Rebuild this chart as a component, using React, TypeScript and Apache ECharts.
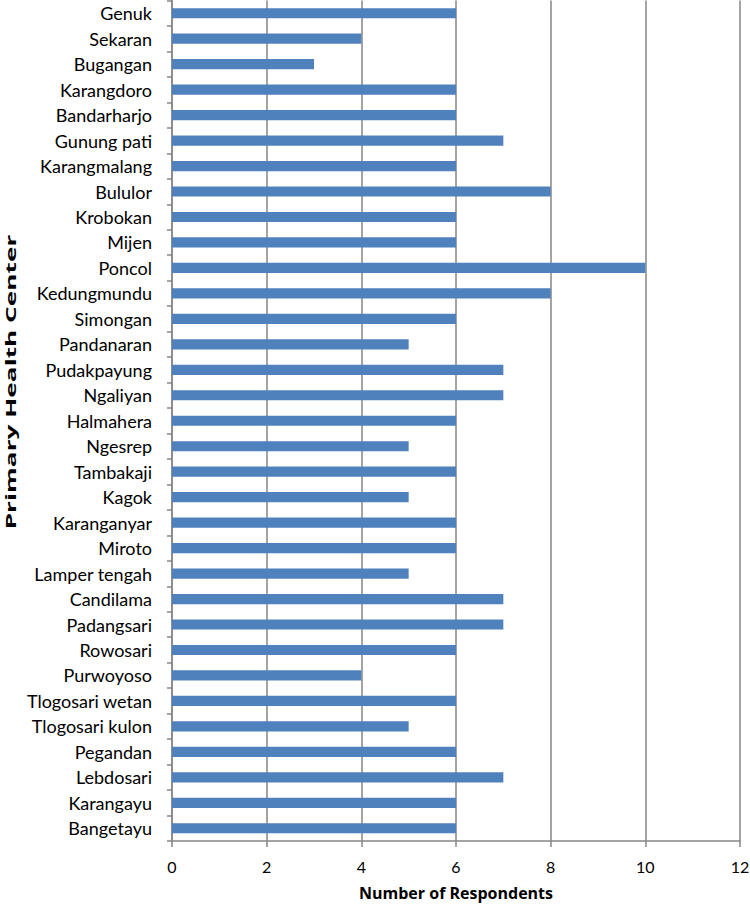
import React, { useEffect, useRef } from "react";
import * as echarts from "echarts";

const categories = [
  "Genuk", "Sekaran", "Bugangan", "Karangdoro", "Bandarharjo", "Gunung pati",
  "Karangmalang", "Bululor", "Krobokan", "Mijen", "Poncol", "Kedungmundu",
  "Simongan", "Pandanaran", "Pudakpayung", "Ngaliyan", "Halmahera", "Ngesrep",
  "Tambakaji", "Kagok", "Karanganyar", "Miroto", "Lamper tengah", "Candilama",
  "Padangsari", "Rowosari", "Purwoyoso", "Tlogosari wetan", "Tlogosari kulon",
  "Pegandan", "Lebdosari", "Karangayu", "Bangetayu",
];
const respondents = [
  6, 4, 3, 6, 6, 7, 6, 8, 6, 6, 10, 8, 6, 5, 7, 7, 6, 5, 6, 5, 6, 6, 5, 7, 7,
  6, 4, 6, 5, 6, 7, 6, 6,
];
const xTicks = { min: 0, max: 12, interval: 2 };
const xAxisTitle = "Number of Respondents";
const yAxisTitle = "Primary Health Center";

const FONT = "Lato, 'Open Sans', sans-serif";
const TITLE_FONT = "'Open Sans', Lato, sans-serif";

export default function App() {
  const ref = useRef<HTMLDivElement>(null);
  useEffect(() => {
    document.body.style.margin = "0";
    const chart = echarts.init(ref.current!, null, { renderer: "svg" });
    chart.setOption({
      animation: false,
      backgroundColor: "#ffffff",
      grid: {
        left: 172,
        right: 10,
        top: 0.5,
        bottom: 64,
        containLabel: false,
        outerBoundsMode: "none",
      },
      xAxis: {
        type: "value",
        min: xTicks.min,
        max: xTicks.max,
        interval: xTicks.interval,
        name: xAxisTitle,
        nameLocation: "middle",
        nameGap: 44,
        nameTextStyle: { fontFamily: TITLE_FONT, fontSize: 16, fontWeight: "bold", color: "#000" },
        axisLine: { show: true, lineStyle: { color: "#868686", width: 1.5 } },
        axisTick: { show: true, length: 6, lineStyle: { color: "#868686", width: 1.5 } },
        axisLabel: { fontFamily: FONT, fontSize: 16, color: "#000", margin: 17 },
        splitLine: { show: true, lineStyle: { color: "#868686", width: 1.5 } },
      },
      yAxis: {
        type: "category",
        data: categories,
        inverse: true,
        axisLine: { show: true, lineStyle: { color: "#868686", width: 1.5 } },
        axisTick: { show: true, length: 5, alignWithLabel: false, lineStyle: { color: "#868686", width: 1.5 } },
        axisLabel: { fontFamily: FONT, fontSize: 18, color: "#000", margin: 20, interval: 0 },
        splitLine: { show: false },
      },
      graphic: [
        {
          type: "text",
          x: 10,
          y: 382,
          rotation: Math.PI / 2,
          scaleX: 1.75,
          style: {
            text: yAxisTitle,
            fontFamily: TITLE_FONT,
            fontSize: 15,
            fontWeight: "bold",
            fill: "#000",
            align: "center",
            verticalAlign: "middle",
          },
        },
      ],
      series: [
        {
          type: "bar",
          data: respondents,
          barWidth: "40%",
          itemStyle: { color: "#4f81bd" },
        },
      ],
    });
    return () => chart.dispose();
  }, []);
  return <div ref={ref} style={{ width: 750, height: 905 }} />;
}
